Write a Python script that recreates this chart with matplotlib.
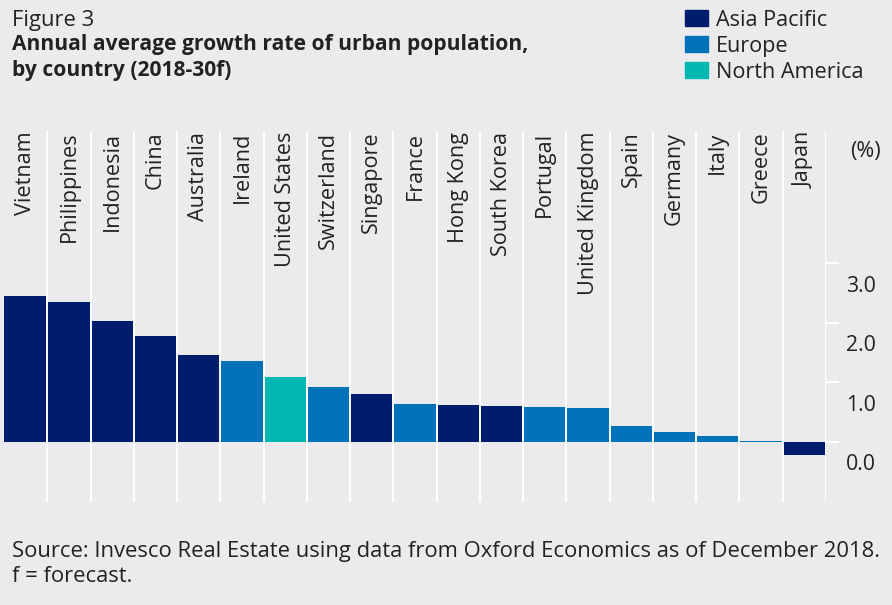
import numpy as np
import matplotlib
matplotlib.use("Agg")
import matplotlib.pyplot as plt
import matplotlib.transforms as mtransforms
from matplotlib.patches import Rectangle

countries = ["Vietnam", "Philippines", "Indonesia", "China", "Australia",
             "Ireland", "United States", "Switzerland", "Singapore", "France",
             "Hong Kong", "South Korea", "Portugal", "United Kingdom", "Spain",
             "Germany", "Italy", "Greece", "Japan"]
regions = ["Asia Pacific", "Asia Pacific", "Asia Pacific", "Asia Pacific",
           "Asia Pacific", "Europe", "North America", "Europe", "Asia Pacific",
           "Europe", "Asia Pacific", "Asia Pacific", "Europe", "Europe",
           "Europe", "Europe", "Europe", "Europe", "Asia Pacific"]
growth = [2.45, 2.35, 2.03, 1.78, 1.46, 1.36, 1.09, 0.92, 0.81, 0.64,
          0.62, 0.60, 0.59, 0.57, 0.27, 0.17, 0.10, 0.01, -0.21]
yticks = [0.0, 1.0, 2.0, 3.0]

region_colors = {"Asia Pacific": "#001C6C",
                 "Europe": "#0072BA",
                 "North America": "#00B8B1"}
BG = "#EBEBED"
TXT = "#222222"

plt.rcParams["font.family"] = ["Open Sans", "DejaVu Sans"]

W, H = 892, 605
fig = plt.figure(figsize=(W / 100, H / 100), dpi=100, facecolor=BG)

def px(x, y):
    return x / W, 1 - y / H

# plot area in pixel coords
left, right, top, bottom = 4, 826, 131, 502
ax = fig.add_axes([left / W, 1 - bottom / H, (right - left) / W, (bottom - top) / H])
ax.set_facecolor(BG)

x = np.arange(len(countries))
colors = [region_colors[r] for r in regions]
ax.bar(x, growth, width=1.0, color=colors, linewidth=0, zorder=2)

ax.set_xlim(-0.5, len(countries) - 0.5)
ax.set_ylim(-1.007, 5.218)

# white separators between columns (last one doubles as the axis line)
for b in x + 0.5:
    ax.axvline(b, color="white", lw=1.4, zorder=3)

for s in ax.spines.values():
    s.set_visible(False)
ax.set_xticks([])
ax.yaxis.tick_right()
ax.set_yticks(yticks)
ax.set_yticklabels([f"{v:.1f}" for v in yticks])
ax.tick_params(axis="y", length=9.4, width=1.4, color="white", pad=5,
               labelsize=15.3, labelcolor=TXT)
shift = mtransforms.ScaledTranslation(0, -0.205, fig.dpi_scale_trans)
for lab in ax.get_yticklabels():
    lab.set_transform(lab.get_transform() + shift)

# country names hang from the top of each column
trans = mtransforms.blended_transform_factory(ax.transData, ax.transAxes)
for i, name in enumerate(countries):
    ax.text(i, 0.998, name, rotation=90, ha="center", va="top",
            fontsize=15.6, color=TXT, transform=trans, zorder=4)

fig.text(*px(865, 151), "(%)", ha="center", va="center", fontsize=15.5, color=TXT)

# heading
fig.text(*px(12, 26), "Figure 3", ha="left", va="baseline", fontsize=15.8, color=TXT)
fig.text(*px(12, 50), "Annual average growth rate of urban population,",
         ha="left", va="baseline", fontsize=15.1, fontweight="bold", color=TXT)
fig.text(*px(12, 76), "by country (2018-30f)",
         ha="left", va="baseline", fontsize=15.1, fontweight="bold", color=TXT)

# legend
for k, (reg, col) in enumerate(region_colors.items()):
    y0 = 9.7 + k * 26
    fig.patches.append(Rectangle(px(685, y0 + 16), 23 / W, 16 / H,
                                 transform=fig.transFigure, color=col))
    fig.text(*px(716, 25.7 + k * 26), reg, ha="left", va="baseline",
             fontsize=15.6, color=TXT)

# footnote
fig.text(*px(12, 556.7),
         "Source: Invesco Real Estate using data from Oxford Economics as of December 2018.",
         ha="left", va="baseline", fontsize=15.8, color=TXT)
fig.text(*px(12, 581.7), "f = forecast.", ha="left", va="baseline",
         fontsize=15.8, color=TXT)

fig.savefig("out.png", dpi=100, facecolor=BG)
